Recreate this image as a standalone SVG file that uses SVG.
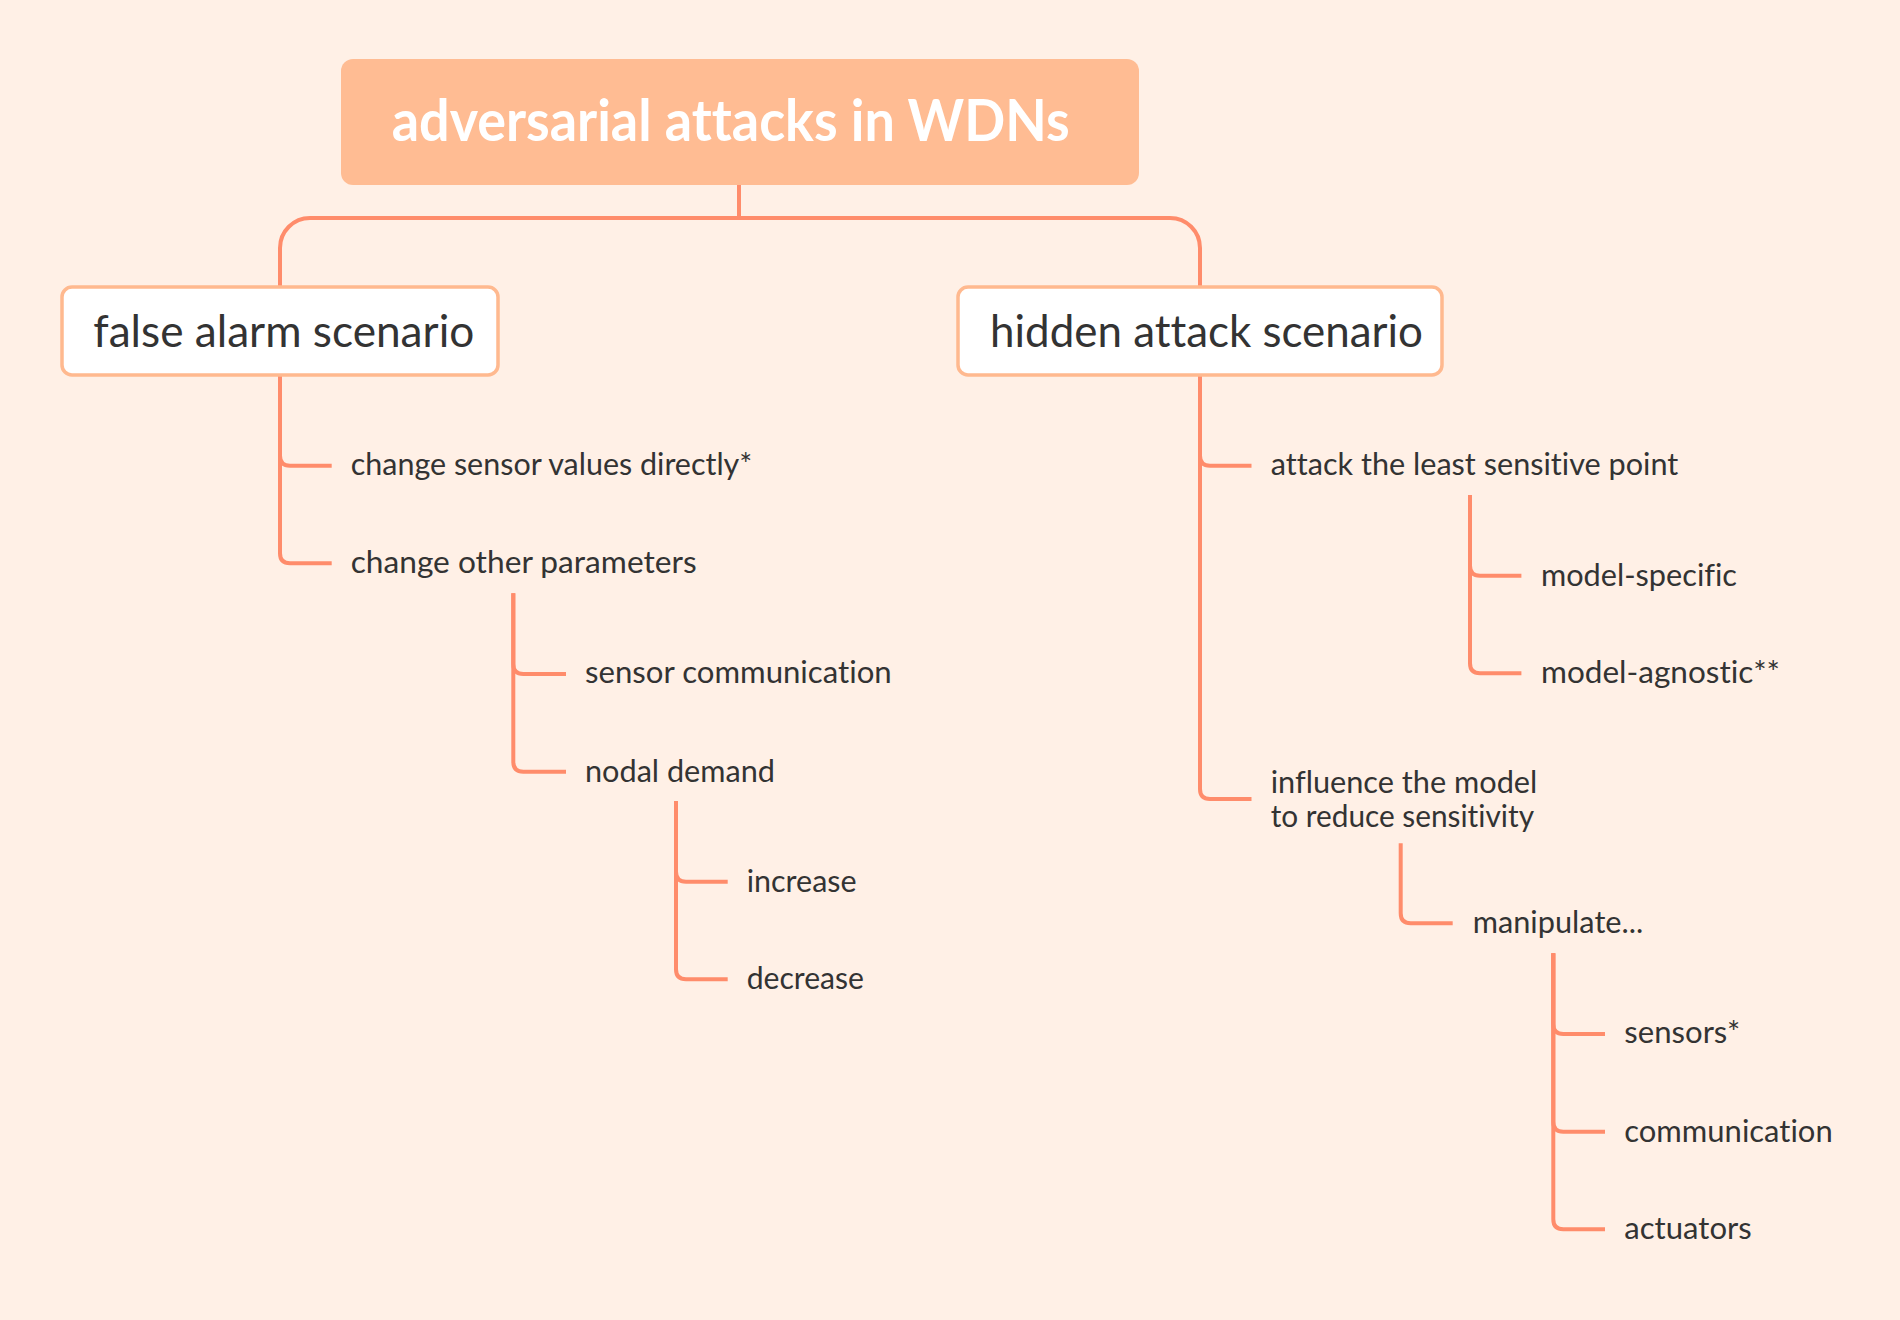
<svg xmlns="http://www.w3.org/2000/svg" width="1900" height="1320" viewBox="0 0 1900 1320">
<defs>
<style>
.bg{fill:#FFF0E6}
.root{fill:#FFBC93}
.rootT{font-family:Lato,"Open Sans","Noto Sans",sans-serif;font-weight:700;font-size:58px;fill:#FFFFFF;font-variant-ligatures:none}
.l1{fill:#FFFFFF;stroke:#FFB98F;stroke-width:3.5}
.l1T{font-family:Lato,"Open Sans","Noto Sans",sans-serif;font-size:44px;fill:#333333;font-variant-ligatures:none}
.t{font-family:Lato,"Open Sans","Noto Sans",sans-serif;font-size:30px;fill:#333333;font-variant-ligatures:none}
.c{fill:none;stroke:#FF8C6B;stroke-width:4;stroke-linecap:butt;stroke-linejoin:round}
</style>
</defs>
<rect class="bg" x="0" y="0" width="1900" height="1320"/>
<g id="connectors">
<path class="c" d="M739 185 V218"/>
<path class="c" d="M280 287 V248 A30 30 0 0 1 310 218 H1170 A30 30 0 0 1 1200 248 V287"/>
<path class="c" d="M280 375 V455.7 Q280 465.7 290 465.7 H331.7"/>
<path class="c" d="M280 375 V553.3 Q280 563.3 290 563.3 H331.7"/>
<path class="c" d="M513.3 593.3 V664 Q513.3 674 523.3 674 H566"/>
<path class="c" d="M513.3 593.3 V761.7 Q513.3 771.7 523.3 771.7 H566"/>
<path class="c" d="M676 801 V871.7 Q676 881.7 686 881.7 H727.7"/>
<path class="c" d="M676 801 V969.3 Q676 979.3 686 979.3 H727.7"/>
<path class="c" d="M1200 375 V455.7 Q1200 465.7 1210 465.7 H1251.5"/>
<path class="c" d="M1200 375 V789 Q1200 799 1210 799 H1251.5"/>
<path class="c" d="M1470 495 V565.7 Q1470 575.7 1480 575.7 H1521.4"/>
<path class="c" d="M1470 495 V663.3 Q1470 673.3 1480 673.3 H1521.4"/>
<path class="c" d="M1400.7 843.3 V913.3 Q1400.7 923.3 1410.7 923.3 H1452.7"/>
<path class="c" d="M1553.3 953.3 V1024 Q1553.3 1034 1563.3 1034 H1605"/>
<path class="c" d="M1553.3 953.3 V1121.7 Q1553.3 1131.7 1563.3 1131.7 H1605"/>
<path class="c" d="M1553.3 953.3 V1219.3 Q1553.3 1229.3 1563.3 1229.3 H1605"/>
</g>
<g id="root">
<rect class="root" x="341" y="59" width="798" height="126" rx="12"/>
<text class="rootT" x="391.7" y="140.7" textLength="678" lengthAdjust="spacingAndGlyphs">adversarial attacks in WDNs</text>
</g>
<g id="false-alarm">
<rect class="l1" x="62" y="287" width="436" height="88" rx="10"/>
<text class="l1T" x="93.3" y="347" textLength="381" lengthAdjust="spacingAndGlyphs">false alarm scenario</text>
</g>
<g id="hidden-attack">
<rect class="l1" x="958" y="287" width="484" height="88" rx="10"/>
<text class="l1T" x="990" y="347" textLength="433" lengthAdjust="spacingAndGlyphs">hidden attack scenario</text>
</g>
<g id="change-sensor"><text class="t" x="350.7" y="475" textLength="401.6" lengthAdjust="spacingAndGlyphs">change sensor values directly*</text></g>
<g id="change-other"><text class="t" x="350.7" y="573.3" textLength="346" lengthAdjust="spacingAndGlyphs">change other parameters</text></g>
<g id="sensor-communication"><text class="t" x="585" y="683.3" textLength="306.7" lengthAdjust="spacingAndGlyphs">sensor communication</text></g>
<g id="nodal-demand"><text class="t" x="585" y="781.7" textLength="190" lengthAdjust="spacingAndGlyphs">nodal demand</text></g>
<g id="increase"><text class="t" x="746.7" y="891.7" textLength="110" lengthAdjust="spacingAndGlyphs">increase</text></g>
<g id="decrease"><text class="t" x="746.7" y="989.3" textLength="117.3" lengthAdjust="spacingAndGlyphs">decrease</text></g>
<g id="attack-least"><text class="t" x="1270.7" y="475" textLength="407.6" lengthAdjust="spacingAndGlyphs">attack the least sensitive point</text></g>
<g id="model-specific"><text class="t" x="1541" y="586" textLength="196" lengthAdjust="spacingAndGlyphs">model-specific</text></g>
<g id="model-agnostic"><text class="t" x="1541" y="683.3" textLength="239" lengthAdjust="spacingAndGlyphs">model-agnostic**</text></g>
<g id="influence">
<text class="t" x="1270.7" y="792.7" textLength="266.6" lengthAdjust="spacingAndGlyphs">influence the model</text>
<text class="t" x="1270.7" y="826.7" textLength="263.3" lengthAdjust="spacingAndGlyphs">to reduce sensitivity</text>
</g>
<g id="manipulate"><text class="t" x="1472.7" y="933.3" textLength="170.6" lengthAdjust="spacingAndGlyphs">manipulate...</text></g>
<g id="sensors"><text class="t" x="1624.3" y="1043.3" textLength="116" lengthAdjust="spacingAndGlyphs">sensors*</text></g>
<g id="communication"><text class="t" x="1624.3" y="1141.7" textLength="208.4" lengthAdjust="spacingAndGlyphs">communication</text></g>
<g id="actuators"><text class="t" x="1624.3" y="1239.3" textLength="127.4" lengthAdjust="spacingAndGlyphs">actuators</text></g>
</svg>
